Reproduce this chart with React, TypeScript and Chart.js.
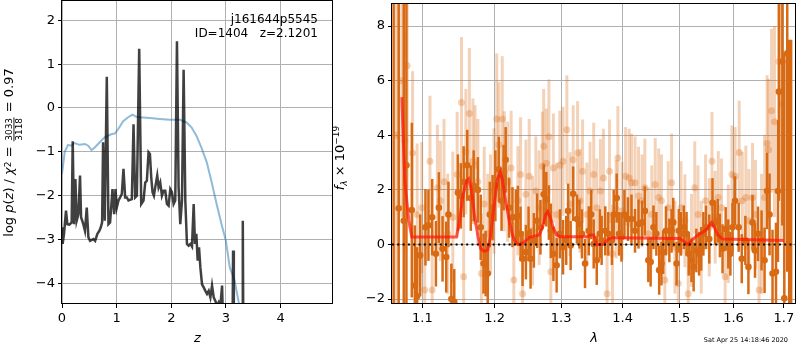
import { useEffect, useRef } from 'react';
import { Chart, registerables } from 'chart.js';
Chart.register(...registerables);

// ---------- left panel: redshift probability ----------
const pzZ = [0.000, 0.012, 0.037, 0.073, 0.098, 0.135, 0.177, 0.196, 0.220, 0.245, 0.269, 0.300, 0.330, 0.349, 0.390, 0.420, 0.453, 0.483, 0.514, 0.575, 0.606, 0.648, 0.685, 0.710, 0.734, 0.752, 0.783, 0.820, 0.850, 0.880, 0.924, 0.954, 0.979, 1.003, 1.034, 1.064, 1.095, 1.125, 1.156, 1.187, 1.217, 1.278, 1.309, 1.339, 1.370, 1.413, 1.450, 1.492, 1.523, 1.553, 1.584, 1.609, 1.633, 1.657, 1.682, 1.706, 1.743, 1.768, 1.798, 1.829, 1.859, 1.890, 1.920, 1.951, 1.982, 2.012, 2.043, 2.073, 2.104, 2.134, 2.165, 2.196, 2.226, 2.257, 2.287, 2.318, 2.349, 2.379, 2.410, 2.434, 2.459, 2.483, 2.508, 2.532, 2.563, 2.593, 2.624, 2.654, 2.685, 2.716, 2.746, 2.777, 2.807, 2.838, 2.869, 2.899, 2.930, 2.960, 3.020, 3.080, 3.120, 3.131, 3.145, 3.230, 3.300, 3.309, 3.320, 3.400];
const pzLog = [-2.72, -3.10, -2.87, -2.34, -2.65, -2.66, -2.61, -0.76, -2.65, -1.62, -2.57, -2.42, -1.54, -2.49, -2.65, -2.80, -2.27, -2.95, -3.03, -2.99, -3.03, -2.87, -2.80, -2.72, -2.61, -0.78, -2.57, 0.71, -2.65, -2.61, -1.85, -2.42, -1.85, -2.27, -2.11, -2.04, -1.96, -1.39, -2.04, -2.04, -2.11, -2.08, -0.37, -2.04, -2.00, 1.35, -2.19, -2.11, -1.70, -1.66, -1.01, -1.05, -1.58, -1.92, -2.00, -1.81, -1.54, -1.81, -1.70, -2.00, -1.89, -1.89, -2.19, -2.23, -1.85, -1.92, -2.19, -2.11, 1.52, -1.81, -2.65, -2.11, 0.87, -2.11, -3.10, -3.14, -3.10, -3.16, -2.19, -3.10, -2.87, -3.48, -3.18, -3.63, -4.02, -4.09, -4.17, -4.24, -4.17, -4.32, -4.05, -4.32, -4.40, -4.51, -4.43, -4.51, -4.05, -5.50, -5.30, -5.20, -5.40, -3.25, -5.40, -5.20, -5.40, -2.57, -5.50, -5.60];

const chiZ = [0.00, 0.05, 0.11, 0.17, 0.23, 0.32, 0.42, 0.48, 0.54, 0.60, 0.69, 0.78, 0.90, 0.97, 1.03, 1.12, 1.21, 1.29, 1.36, 1.42, 1.61, 1.79, 1.97, 2.16, 2.28, 2.37, 2.46, 2.55, 2.65, 2.74, 2.83, 2.92, 3.00, 3.07, 3.16, 3.24, 3.35];
const chiLog = [-1.50, -1.00, -0.84, -0.86, -0.80, -0.84, -0.82, -0.86, -0.96, -0.90, -0.78, -0.67, -0.60, -0.58, -0.48, -0.30, -0.21, -0.15, -0.20, -0.21, -0.23, -0.25, -0.27, -0.27, -0.33, -0.44, -0.63, -0.90, -1.24, -1.70, -2.19, -2.65, -3.03, -3.63, -3.94, -4.47, -5.20];

const zTicks = [0, 1, 2, 3, 4];
const logpTicks = [-4, -3, -2, -1, 0, 1, 2];

// ---------- right panel: spectrum ----------
const darkLam = [1.0625, 1.069, 1.0755, 1.079, 1.086, 1.090, 1.093, 1.097, 1.104, 1.108, 1.113, 1.118, 1.122, 1.127, 1.132, 1.135, 1.139, 1.143, 1.148, 1.152, 1.156, 1.161, 1.166, 1.170, 1.176, 1.180, 1.184, 1.187, 1.190, 1.193, 1.197, 1.201, 1.206, 1.210, 1.213, 1.216, 1.221, 1.226, 1.231, 1.234, 1.238, 1.241, 1.246, 1.250, 1.253, 1.258, 1.263, 1.268, 1.273, 1.277, 1.281, 1.284, 1.288, 1.293, 1.298, 1.303, 1.308, 1.311, 1.315, 1.319, 1.325, 1.329, 1.333, 1.338, 1.344, 1.348, 1.352, 1.357, 1.362, 1.365, 1.371, 1.376, 1.382, 1.385, 1.390, 1.394, 1.398, 1.403, 1.409, 1.415, 1.421, 1.427, 1.433, 1.438, 1.444, 1.448, 1.453, 1.458, 1.463, 1.467, 1.470, 1.475, 1.481, 1.485, 1.488, 1.494, 1.498, 1.502, 1.507, 1.512, 1.516, 1.521, 1.525, 1.530, 1.535, 1.539, 1.543, 1.548, 1.554, 1.560, 1.565, 1.570, 1.574, 1.579, 1.585, 1.590, 1.594, 1.598, 1.603, 1.610, 1.616, 1.623, 1.629, 1.637, 1.642, 1.648, 1.655, 1.661, 1.666, 1.671, 1.677, 1.684, 1.688, 1.690, 1.697, 1.701, 1.707, 1.711, 1.715];
const darkFlux = [-2.6, 1.33, 0.87, 2.9, 1.26, -1.5, -1.9, -0.4, 0.63, 0.70, 1.00, -0.34, 1.35, -0.16, -0.46, 1.10, -2.00, -2.10, 1.90, 1.78, 2.30, 2.90, 1.70, 2.15, 2.00, 0.63, -0.70, -0.70, -1.06, 1.10, 1.35, 2.15, 2.75, 1.60, 2.45, 3.10, 1.35, 1.00, 1.00, 1.05, 0.39, -0.52, -0.28, 0.39, -0.52, 0.15, 0.87, 0.63, 1.84, 1.66, 1.17, 0.50, -0.34, -0.76, 0.39, -0.10, 0.15, 1.23, -0.04, 1.86, 0.93, 0.75, 0.39, -0.70, 0.50, 1.10, 0.02, -0.58, 0.39, 0.15, 0.50, 0.39, 0.15, 1.10, 1.70, 0.39, 0.27, 1.10, 0.93, 0.93, 0.50, 0.75, 0.81, 1.23, -0.58, -0.64, 0.63, 0.39, -0.94, -0.70, -0.28, 0.50, 0.15, 0.50, 0.81, -0.70, 0.50, 0.39, 0.63, 0.39, -0.34, -0.58, -0.82, -0.22, -0.34, -0.16, 0.39, 0.63, 0.20, 1.53, 0.81, 0.87, 0.33, -0.16, 0.57, 0.02, -0.34, 0.63, 1.60, 0.63, -0.52, 0.15, -0.82, 0.81, -0.22, 0.39, 0.15, -0.58, 1.96, 1.10, -1.06, -1.00, 1.96, 5.60, 6.70, -1.97, 7.00, -4.0, -4.5];
const darkErr = [11.5, 9, 9, 6, 3.2, 2.2, 1.8, 1.5, 1.4, 1.3, 1.4, 1.2, 1.3, 1.2, 1.3, 1.2, 1.3, 1.2, 1.4, 1.2, 1.3, 1.3, 1.2, 1.3, 1.2, 1.2, 1.1, 1.2, 1.1, 1.2, 1.2, 1.3, 1.2, 1.1, 1.2, 1.2, 1.1, 1.1, 1.0, 1.1, 1.0, 1.0, 1.0, 1.0, 1.1, 1.0, 1.0, 1.0, 1.1, 1.0, 1.0, 1.0, 1.0, 1.0, 0.9, 1.0, 0.9, 1.0, 0.9, 1.0, 0.9, 0.9, 0.9, 0.9, 0.9, 0.9, 0.9, 0.9, 0.9, 0.9, 0.9, 0.8, 0.9, 0.9, 0.9, 0.8, 0.9, 0.9, 0.8, 0.9, 0.8, 0.9, 0.8, 0.9, 0.8, 0.9, 0.8, 0.8, 0.9, 0.8, 0.8, 0.9, 0.8, 0.8, 0.9, 0.8, 0.8, 0.8, 0.8, 0.8, 0.8, 0.8, 0.9, 0.8, 0.8, 0.8, 0.8, 0.8, 0.9, 0.9, 0.8, 0.8, 0.8, 0.9, 0.8, 0.9, 0.8, 0.9, 0.9, 0.9, 0.9, 0.9, 1.0, 1.0, 1.0, 1.0, 1.1, 1.2, 1.4, 1.5, 1.6, 1.8, 2.6, 4.0, 6.0, 9.0, 8.0, 11.5, 12.0];

const lightLam = [1.066, 1.073, 1.077, 1.080, 1.087, 1.093, 1.099, 1.103, 1.110, 1.113, 1.120, 1.124, 1.129, 1.134, 1.141, 1.147, 1.153, 1.156, 1.159, 1.164, 1.169, 1.172, 1.176, 1.181, 1.185, 1.190, 1.194, 1.199, 1.203, 1.206, 1.211, 1.214, 1.219, 1.224, 1.228, 1.234, 1.238, 1.241, 1.246, 1.251, 1.256, 1.261, 1.266, 1.271, 1.273, 1.277, 1.281, 1.284, 1.288, 1.293, 1.298, 1.303, 1.309, 1.314, 1.319, 1.326, 1.330, 1.334, 1.341, 1.346, 1.352, 1.357, 1.363, 1.368, 1.374, 1.378, 1.383, 1.389, 1.392, 1.399, 1.405, 1.411, 1.415, 1.421, 1.427, 1.433, 1.438, 1.444, 1.450, 1.456, 1.462, 1.467, 1.473, 1.479, 1.485, 1.491, 1.497, 1.502, 1.509, 1.515, 1.521, 1.527, 1.533, 1.539, 1.547, 1.554, 1.559, 1.565, 1.571, 1.577, 1.584, 1.590, 1.597, 1.603, 1.611, 1.617, 1.624, 1.630, 1.637, 1.643, 1.650, 1.655, 1.661, 1.666, 1.669, 1.675, 1.681, 1.690, 1.695];
const lightFlux = [4.0, 6.0, 3.8, 6.55, 3.35, 1.10, 1.35, -1.67, 3.05, -1.67, 2.08, 1.60, 2.30, 0.39, 1.00, 2.56, 5.20, -1.18, 3.40, 4.80, 3.05, 2.90, 2.30, -1.06, 1.48, 0.39, 1.10, 1.96, 4.60, 3.65, 4.60, 2.68, 2.30, 2.80, -1.30, 1.60, 2.56, -1.80, 1.84, 2.50, 0.50, 1.96, 1.35, 2.87, 3.60, 2.98, 3.95, -1.00, 2.80, 1.10, 2.90, 3.05, 4.20, 1.48, 3.10, 3.35, 1.60, 2.68, 1.10, 1.96, 2.56, 1.35, 1.96, 2.44, -1.80, 2.68, -0.34, 1.29, 3.17, 1.23, 2.50, 2.44, 2.26, 2.26, 1.78, 1.60, 2.08, 0.39, 1.10, 2.20, 1.72, 1.60, -1.30, 1.35, 2.26, -0.10, -1.43, 1.35, 0.87, -1.80, 0.15, 2.08, 1.10, -0.10, 1.60, 0.63, 3.05, 1.00, 1.72, 1.35, -1.18, 0.39, 2.56, 2.50, 3.37, 1.60, 1.72, 0.87, 1.72, 1.10, -1.67, 0.39, 1.72, 3.70, 3.47, 4.90, 4.50, 6.70, 5.15];
const lightErr = [7, 5, 4.0, 4.5, 3.0, 2.6, 2.4, 2.3, 2.4, 2.2, 2.3, 2.2, 2.3, 2.2, 2.4, 2.3, 2.4, 2.2, 2.3, 2.4, 2.3, 2.2, 2.3, 2.2, 2.1, 2.2, 2.2, 2.3, 2.4, 2.3, 2.3, 2.2, 2.2, 2.1, 2.1, 2.0, 2.1, 2.0, 2.0, 2.1, 2.0, 2.0, 2.1, 2.0, 2.1, 2.0, 2.1, 2.0, 2.0, 1.9, 2.0, 2.0, 2.0, 1.9, 2.0, 1.9, 1.9, 1.9, 1.9, 1.8, 1.9, 1.8, 1.9, 1.8, 1.8, 1.9, 1.8, 1.8, 1.9, 1.8, 1.8, 1.8, 1.8, 1.7, 1.8, 1.7, 1.8, 1.7, 1.8, 1.7, 1.8, 1.7, 1.8, 1.7, 1.8, 1.7, 1.8, 1.7, 1.7, 1.8, 1.7, 1.7, 1.8, 1.7, 1.7, 1.8, 1.8, 1.7, 1.7, 1.8, 1.7, 1.8, 1.8, 1.8, 1.9, 1.8, 1.9, 1.9, 2.0, 2.0, 2.1, 2.2, 2.3, 2.5, 2.6, 3.0, 3.5, 4.5, 5.0];

const modelLam = [1.073, 1.077, 1.082, 1.086, 1.146, 1.150, 1.155, 1.160, 1.163, 1.167, 1.171, 1.176, 1.180, 1.185, 1.190, 1.194, 1.199, 1.204, 1.208, 1.211, 1.216, 1.221, 1.226, 1.231, 1.236, 1.244, 1.251, 1.258, 1.266, 1.271, 1.276, 1.279, 1.283, 1.288, 1.293, 1.298, 1.303, 1.341, 1.346, 1.352, 1.357, 1.363, 1.368, 1.376, 1.382, 1.499, 1.505, 1.515, 1.524, 1.533, 1.542, 1.551, 1.558, 1.563, 1.570, 1.579, 1.700];
const modelFlux = [5.40, 2.30, 0.90, 0.27, 0.27, 0.80, 1.80, 2.30, 2.40, 2.00, 1.10, 0.30, -0.15, -0.25, -0.20, 0.30, 1.40, 2.40, 2.65, 2.40, 1.60, 0.90, 0.35, 0.05, 0.00, 0.10, 0.25, 0.30, 0.35, 0.60, 1.10, 1.20, 1.00, 0.60, 0.35, 0.28, 0.28, 0.28, 0.35, 0.35, 0.00, 0.00, 0.00, 0.20, 0.25, 0.22, 0.15, 0.00, 0.20, 0.35, 0.45, 0.60, 0.80, 0.65, 0.35, 0.20, 0.15];

const lamTicks = [1.1, 1.2, 1.3, 1.4, 1.5, 1.6, 1.7];
const fluxTicks = [-2, 0, 2, 4, 6, 8];
const lamRange = [1.0604, 1.7251];

const FONT = '"DejaVu Sans", sans-serif';
const DARK = 'rgb(217,106,20)';
const LIGHT = 'rgba(217,106,20,0.3)';

const fmtMinus = (s: string) => s.replace('-', '\u2212');

type Seg = { t?: string; size: number; italic?: boolean; dy?: number; num?: string; den?: string; bar?: number; numY?: number; denY?: number };

function drawRich(ctx: CanvasRenderingContext2D, segs: Seg[], cx: number, cy: number) {
  ctx.save();
  ctx.translate(cx, cy);
  ctx.rotate(-Math.PI / 2);
  ctx.fillStyle = '#000';
  ctx.textBaseline = 'alphabetic';
  const fontOf = (s: Seg) => `${s.italic ? 'italic ' : ''}${s.size}px ${FONT}`;
  const widths = segs.map((s) => {
    ctx.font = fontOf(s);
    if (s.num) return Math.max(ctx.measureText(s.num).width, ctx.measureText(s.den || '').width) + 3;
    return ctx.measureText(s.t || '').width;
  });
  const total = widths.reduce((a, b) => a + b, 0);
  let x = -total / 2;
  segs.forEach((s, i) => {
    ctx.font = fontOf(s);
    const w = widths[i];
    if (s.num) {
      ctx.textAlign = 'center';
      ctx.fillText(s.num, x + w / 2, s.numY || 0);
      ctx.fillText(s.den || '', x + w / 2, s.denY || 0);
      ctx.fillRect(x + 1, s.bar || 0, w - 2, 0.9);
    } else {
      ctx.textAlign = 'left';
      ctx.fillText(s.t || '', x, s.dy || 0);
    }
    x += w;
  });
  ctx.restore();
}

function drawSpines(chart: any) {
  const { ctx, chartArea: a } = chart;
  ctx.save();
  ctx.strokeStyle = '#000';
  ctx.lineWidth = 1;
  ctx.strokeRect(Math.round(a.left) - 0.5, Math.round(a.top) - 0.5, Math.round(a.right - a.left), Math.round(a.bottom - a.top));
  ctx.restore();
}

const errorBarPlugin = {
  id: 'errorBars',
  beforeDatasetDraw(chart: any, args: any) {
    const ds = chart.data.datasets[args.index];
    if (!ds.errors) return;
    const xs = chart.scales.x;
    const ys = chart.scales.y;
    const a = chart.chartArea;
    const ctx = chart.ctx;
    ctx.save();
    ctx.beginPath();
    ctx.rect(a.left, a.top, a.right - a.left, a.bottom - a.top);
    ctx.clip();
    ctx.strokeStyle = ds.errColor;
    ctx.lineWidth = ds.errWidth;
    ds.data.forEach((p: any, i: number) => {
      const x = xs.getPixelForValue(p.x);
      const e = ds.errors[i];
      ctx.beginPath();
      ctx.moveTo(x, ys.getPixelForValue(p.y - e));
      ctx.lineTo(x, ys.getPixelForValue(p.y + e));
      ctx.stroke();
    });
    ctx.restore();
  },
};

const leftDeco = {
  id: 'leftDeco',
  afterDraw(chart: any) {
    const { ctx, chartArea: a } = chart;
    drawSpines(chart);
    ctx.save();
    ctx.fillStyle = '#000';
    ctx.textAlign = 'right';
    ctx.textBaseline = 'middle';
    ctx.font = `12px ${FONT}`;
    ctx.fillText('j161644p5545', a.right - 15, 20);
    ctx.fillText('ID=1404   z=2.1201', a.right - 15, 34);
    ctx.textAlign = 'center';
    ctx.font = `italic 13px ${FONT}`;
    ctx.fillText('z', (a.left + a.right) / 2, 339);
    ctx.restore();
    const cy = (a.top + a.bottom) / 2;
    drawRich(ctx, [
      { t: 'log ', size: 13 },
      { t: 'p', size: 13, italic: true },
      { t: '(', size: 13 },
      { t: 'z', size: 13, italic: true },
      { t: ') / ', size: 13 },
      { t: '\u03c7', size: 13, italic: true },
      { t: '2', size: 9, dy: -2 },
      { t: ' = ', size: 13 },
      { num: '3033', den: '3118', size: 9, bar: 0.5, numY: -1.5, denY: 8.5 },
      { t: ' = 0.97', size: 13 },
    ], 13, cy);
  },
};

const rightDeco = {
  id: 'rightDeco',
  afterDraw(chart: any) {
    const { ctx, chartArea: a } = chart;
    drawSpines(chart);
    ctx.save();
    ctx.fillStyle = '#000';
    ctx.textAlign = 'center';
    ctx.textBaseline = 'middle';
    ctx.font = `italic 13px ${FONT}`;
    ctx.fillText('\u03bb', (a.left + a.right) / 2, 339);
    ctx.textAlign = 'right';
    ctx.font = `6.5px ${FONT}`;
    ctx.fillText('Sat Apr 25 14:18:46 2020', 458, 340);
    ctx.restore();
    const cy = (a.top + a.bottom) / 2;
    drawRich(ctx, [
      { t: 'f', size: 13, italic: true },
      { t: '\u03bb', size: 9, italic: true, dy: 3 },
      { t: ' \u00d7 10', size: 13 },
      { t: '\u221219', size: 9, dy: -5 },
    ], 14, cy + 4);
  },
};

function axis(ticksArr: number[], fit: (s: any) => void, fmt: (v: number) => string, extra: any) {
  return {
    ...extra,
    afterBuildTicks: (s: any) => { s.ticks = ticksArr.map((v) => ({ value: v })); },
    afterFit: (s: any) => {
      fit(s);
      s.paddingTop = 0; s.paddingBottom = 0; s.paddingLeft = 0; s.paddingRight = 0;
    },
    grid: { color: '#b0b0b0', lineWidth: 1, tickColor: '#000', tickLength: 4, tickWidth: 1, drawTicks: true },
    border: { display: false },
    ticks: { color: '#000', font: { family: FONT, size: 13 }, padding: 3, autoSkip: false, maxRotation: 0, callback: (v: any) => fmt(Number(v)) },
  };
}

export default function App() {
  const leftRef = useRef<HTMLCanvasElement>(null);
  const rightRef = useRef<HTMLCanvasElement>(null);

  useEffect(() => {
    const left = new Chart(leftRef.current as HTMLCanvasElement, {
      type: 'scatter',
      data: {
        datasets: [
          {
            data: pzZ.map((z, i) => ({ x: z, y: pzLog[i] })),
            showLine: true, pointRadius: 0, borderColor: 'rgba(0,0,0,0.75)', borderWidth: 2.5, order: 0, clip: 0,
          } as any,
          {
            data: chiZ.map((z, i) => ({ x: z, y: chiLog[i] })),
            showLine: true, pointRadius: 0, borderColor: 'rgba(31,119,180,0.5)', borderWidth: 2, order: 1, clip: 0,
          } as any,
        ],
      },
      options: {
        animation: false, responsive: false, events: [],
        layout: { padding: { left: 0, top: 1, right: 7, bottom: 0 } },
        plugins: { legend: { display: false }, tooltip: { enabled: false } },
        scales: {
          x: axis(zTicks, (s) => { s.height = 46; }, (v) => String(v), { type: 'linear', min: 0, max: 4.96 }),
          y: axis(logpTicks, (s) => { s.width = 62; }, (v) => fmtMinus(String(v)), { type: 'linear', min: -4.47, max: 2.44 }),
        } as any,
      },
      plugins: [leftDeco],
    });

    const right = new Chart(rightRef.current as HTMLCanvasElement, {
      type: 'scatter',
      data: {
        datasets: [
          {
            data: [{ x: lamRange[0], y: 0 }, { x: lamRange[1], y: 0 }],
            showLine: true, pointRadius: 0, borderColor: '#000', borderWidth: 2, borderDash: [2, 3.3], order: 0, clip: 0,
          } as any,
          {
            data: modelLam.map((l, i) => ({ x: l, y: modelFlux[i] })),
            showLine: true, pointRadius: 0, borderColor: 'rgba(255,20,10,0.7)', borderWidth: 3, order: 1, clip: 0,
          } as any,
          {
            data: darkLam.map((l, i) => ({ x: l, y: darkFlux[i] })),
            errors: darkErr, errColor: DARK, errWidth: 2.5,
            pointRadius: 3.3, backgroundColor: DARK, borderWidth: 0, order: 2, clip: 0,
          } as any,
          {
            data: lightLam.map((l, i) => ({ x: l, y: lightFlux[i] })),
            errors: lightErr, errColor: LIGHT, errWidth: 3,
            pointRadius: 3.5, backgroundColor: LIGHT, borderWidth: 0, order: 3, clip: 0,
          } as any,
        ],
      },
      options: {
        animation: false, responsive: false, events: [],
        layout: { padding: { left: 0, top: 1, right: 1, bottom: 0 } },
        plugins: { legend: { display: false }, tooltip: { enabled: false } },
        scales: {
          x: axis(lamTicks, (s) => { s.height = 46; }, (v) => v.toFixed(1), { type: 'logarithmic', min: lamRange[0], max: lamRange[1] }),
          y: axis(fluxTicks, (s) => { s.width = 62; }, (v) => fmtMinus(String(v)), { type: 'linear', min: -2.18, max: 8.81 }),
        } as any,
      },
      plugins: [errorBarPlugin, rightDeco],
    });

    return () => { left.destroy(); right.destroy(); };
  }, []);

  return (
    <div style={{ position: 'absolute', left: 0, top: 0, width: 800, height: 350, background: '#fff' }}>
      <canvas ref={leftRef} width={340} height={350} style={{ position: 'absolute', left: 0, top: 0, width: 340, height: 350 }} />
      <canvas ref={rightRef} width={470} height={350} style={{ position: 'absolute', left: 330, top: 0, width: 470, height: 350 }} />
    </div>
  );
}
